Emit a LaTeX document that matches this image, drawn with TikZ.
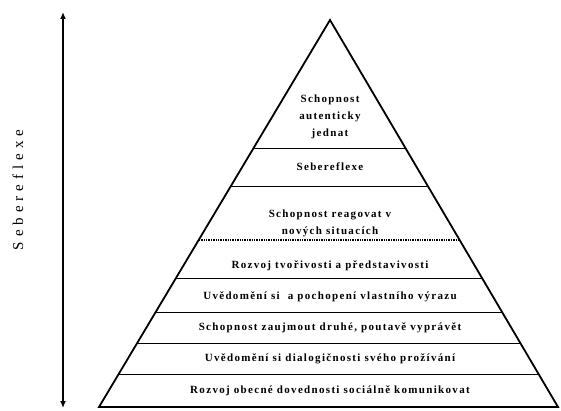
\documentclass[tikz,border=0pt]{standalone}
\usepackage{fontspec}
\setmainfont{Liberation Serif}
\usetikzlibrary{calc,arrows.meta}
\tikzset{every picture/.append style={x=1pt, y=1pt}}
\tikzset{
    level/.style={align=center, inner sep=1pt,
    	font=\bfseries\fontsize{11}{17}\selectfont\addfontfeatures{LetterSpace=12}},
    rim/.style={line width=1.8pt, line join=miter},
    sep/.style={line width=0.9pt}
}

\begin{document}
\begin{tikzpicture}
  \useasboundingbox (0,0) rectangle (561,410);
  \coordinate (apex) at (330,390);
  \coordinate (bl) at (99,3);
  \coordinate (br) at (558,3);
  \coordinate (top) at (63,398);
  \coordinate (bot) at (63,2);

  \draw [rim] (apex) -- (bl) -- (br) -- cycle;
  \foreach \t in {0.331,0.429,0.669,0.755,0.835,0.917}
    \draw [sep] ($(apex)!\t!(bl)$) -- ($(apex)!\t!(br)$);
  \draw [line width=1.4pt, densely dotted] ($(apex)!0.568!(bl)$) -- ($(apex)!0.568!(br)$);

  \draw [line width=1.6pt, {Latex[length=7pt,width=6pt]}-{Latex[length=7pt,width=6pt]}] (top) -- (bot);

  \node (side) [rotate=90, font=\fontsize{15}{17}\selectfont\addfontfeatures{LetterSpace=33}] at (18,220) {Sebereflexe};

  \node (l1) [level] at (330,293) {Schopnost\\autenticky\\jednat};
  \node (l2) [level] at (330,243) {Sebereflexe};
  \node (l3) [level] at (330,187) {Schopnost reagovat v\\nových situacích};
  \node (l4) [level] at (330,144) {Rozvoj tvořivosti a představivosti};
  \node (l5) [level] at (330,113) {Uvědomění si~ a pochopení vlastního výrazu};
  \node (l6) [level] at (330,82) {Schopnost zaujmout druhé, poutavě vyprávět};
  \node (l7) [level] at (330,51) {Uvědomění si dialogičnosti svého prožívání};
  \node (l8) [level] at (330,19) {Rozvoj obecné dovednosti sociálně komunikovat};
\end{tikzpicture}
\end{document}
